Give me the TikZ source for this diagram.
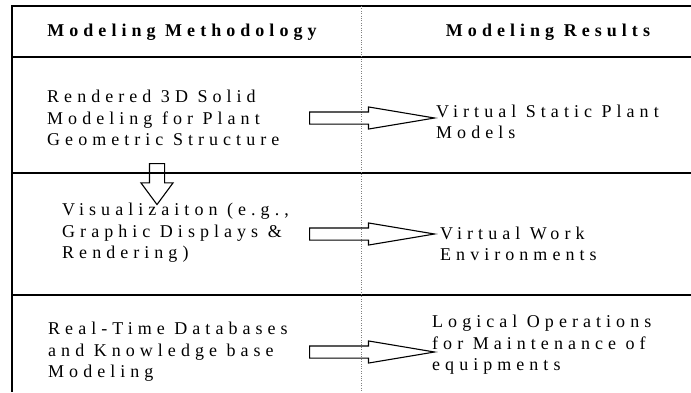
\documentclass[tikz,border=0pt]{standalone}
\usepackage{fontspec}
\setmainfont{Liberation Serif}[LetterSpace=28]
\usetikzlibrary{shapes.arrows}

\tikzset{
  txt/.style={anchor=west, align=left, inner sep=0pt,
    font=\fontsize{18}{21.5}\selectfont},
  hd/.style={inner sep=0pt, font=\fontsize{18}{21}\selectfont\bfseries},
  rule/.style={line width=1.2pt},
  blk/.style={single arrow, draw, line width=1.1pt, inner xsep=0pt, inner ysep=5.5pt,
    anchor=tail, minimum height=125pt, single arrow head extend=5pt,
    single arrow tip angle=19},
}

\begin{document}
\begin{tikzpicture}[x=1pt, y=-1pt]
      \useasboundingbox (0,0) rectangle (691,392);
      % table
      \draw [rule] (691,6) -- (12,6) -- (12,392);
      \draw [rule] (12,57) -- (691,57);
      \draw [rule] (12,173) -- (691,173);
      \draw [rule] (12,295) -- (691,295);
      \draw [gray, dotted] (361,6) -- (361,392);
      % header
      \node (hmeth) [hd] at (182,32) {Modeling Methodology};
      \node (hres) [hd] at (548,32) {Modeling Results};
      % rows
      \node (meth1) [txt] at (47,118) {Rendered 3D Solid\\Modeling for Plant\\Geometric Structure};
      \node (res1) [txt] at (436,122) {Virtual Static Plant\\Models};
      \node (meth2) [txt] at (62,233) {Visualizaiton (e.g.,\\Graphic Displays \&\\Rendering)};
      \node (res2) [txt] at (440,244) {Virtual Work\\Environments};
      \node (meth3) [txt] at (48,352) {Real-Time Databases\\and Knowledge base\\Modeling};
      \node (res3) [txt] at (432,345) {Logical Operations\\for Maintenance of\\equipments};
      % arrows
      \node (arr1) [blk] at (309,118) {};
      \node (arr2) [blk] at (309,234) {};
      \node (arr3) [blk] at (309,352) {};
      \node (down) [blk, rotate=-90, minimum height=41pt, inner ysep=7pt,
        single arrow head extend=8.5pt, single arrow tip angle=73] at (157,163) {};
\end{tikzpicture}
\end{document}
